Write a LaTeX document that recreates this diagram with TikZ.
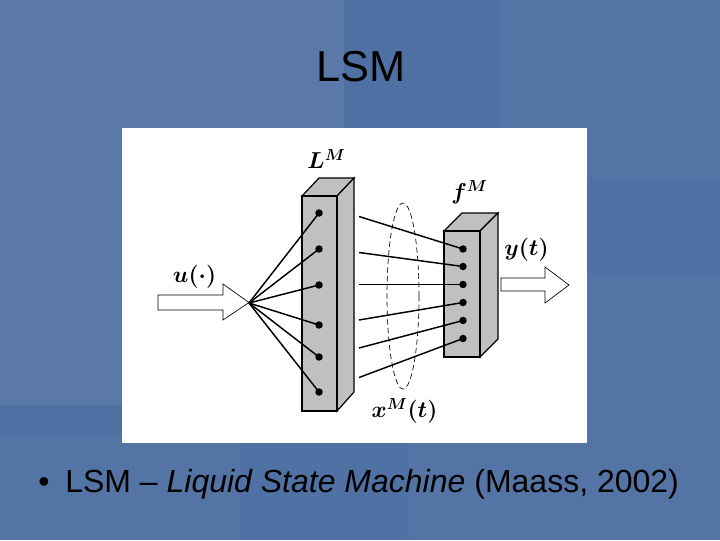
\documentclass[tikz,border=0pt]{standalone}
\usepackage{amsmath,amssymb}
\usepackage{fontspec}
\setmainfont{Liberation Sans}
\usepackage{xcolor}
\usetikzlibrary{positioning}
\definecolor{slideblue}{HTML}{5574A6}
\definecolor{patchlight}{HTML}{5A79A9}
\definecolor{patchdark}{HTML}{4F70A3}
\definecolor{patchsoft}{HTML}{5071A3}
\definecolor{blockgray}{HTML}{C0C0C0}

\begin{document}
\begin{tikzpicture}[x=0.75pt,y=-0.75pt,thin,
    cell node/.style={circle,fill=black,inner sep=0pt,minimum size=5.6pt},
    block/.style={draw=black,fill=blockgray,line width=0.9pt,line join=miter},
    flow/.style={draw=black,fill=white,line width=0.5pt},
    wire/.style={line width=1.1pt},
    math label/.style={inner sep=0pt,font=\fontsize{18}{22}\selectfont\boldmath},
    slide text/.style={inner sep=0pt,text=black}]
    % background of the slide
    \fill[slideblue] (0,0) rectangle (720,540);
    \useasboundingbox (0,0) rectangle (720,540);
    \fill[patchlight] (0,0) rectangle (344,405);
    \fill[patchdark] (344,0) rectangle (500,230);
    \fill[patchsoft] (586,178) rectangle (720,275);
    \fill[patchsoft] (0,405) rectangle (122,435);
    \fill[patchsoft] (240,443) rectangle (408,540);
    \fill[white] (122,128) rectangle (587,443);

    \node[slide text,font=\fontsize{32.5}{36}\selectfont] (title) at (361,67) {LSM};
    \node[slide text,font=\fontsize{24}{28}\selectfont,anchor=base west] (bullet) at (38,492) {•};
    \node[slide text,font=\fontsize{24}{28}\selectfont,anchor=base west] (caption) at (65,492) {LSM – \textit{Liquid State Machine} (Maass, 2002)};

    % reservoir block
    \draw[block] (302,196) -- (319,178) -- (354,178) -- (337,196) -- cycle;
    \draw[block] (337,196) -- (354,178) -- (354,392) -- (337,411) -- cycle;
    \draw[block] (302,196) rectangle (337,411);

    % readout block
    \draw[block] (444,231) -- (462,213) -- (498,213) -- (480,231) -- cycle;
    \draw[block] (480,231) -- (498,213) -- (498,339) -- (480,357) -- cycle;
    \draw[block] (444,231) rectangle (480,357);

    % arrows in and out
    \draw[flow] (158,295) -- (223,295) -- (223,284) -- (249,302.5) -- (223,320) -- (223,310) -- (158,310) -- cycle;
    \draw[flow] (501,278) -- (545,278) -- (545,267) -- (569,285) -- (545,303) -- (545,291) -- (501,291) -- cycle;

    \coordinate (fan) at (249,303);
    \node[cell node] (res1) at (319,213) {};
    \node[cell node] (res2) at (319,249) {};
    \node[cell node] (res3) at (319,285) {};
    \node[cell node] (res4) at (319,325) {};
    \node[cell node] (res5) at (319,357) {};
    \node[cell node] (res6) at (319,392) {};

    \node[cell node] (read1) at (463,249) {};
    \node[cell node] (read2) at (463,266.5) {};
    \node[cell node] (read3) at (463,284.5) {};
    \node[cell node] (read4) at (463,302.5) {};
    \node[cell node] (read5) at (463,320.5) {};
    \node[cell node] (read6) at (463,338.5) {};

    \coordinate (out1) at (359,216.5);
    \coordinate (out2) at (359,252.5);
    \coordinate (out3) at (359,284.5);
    \coordinate (out4) at (359,320);
    \coordinate (out5) at (359,348);
    \coordinate (out6) at (359,377.5);

    \path[wire] (fan) edge (res1.center)
        (fan) edge (res2.center)
        (fan) edge (res3.center)
        (fan) edge (res4.center)
        (fan) edge (res5.center)
        (fan) edge (res6.center)
        (out1) edge (read1.center)
        (out2) edge (read2.center)
        (out3) edge[line width=0.5pt] (read3.center)
        (out4) edge (read4.center)
        (out5) edge (read5.center)
        (out6) edge (read6.center);

    \draw[line width=0.5pt,dash pattern=on 4pt off 2.5pt] (403,296) ellipse (16 and 93);

    \node[math label] (lsmlabel) at (326.5,159) {$L^{M}$};
    \node[math label] (inlabel) at (194.5,277) {$u(\cdot)$};
    \node[math label] (readlabel) at (469.5,192) {$f^{M}$};
    \node[math label] (outlabel) at (526.5,250) {$y(t)$};
    \node[math label] (statelabel) at (404.5,411) {$x^{M}(t)$};
\end{tikzpicture}
\end{document}
